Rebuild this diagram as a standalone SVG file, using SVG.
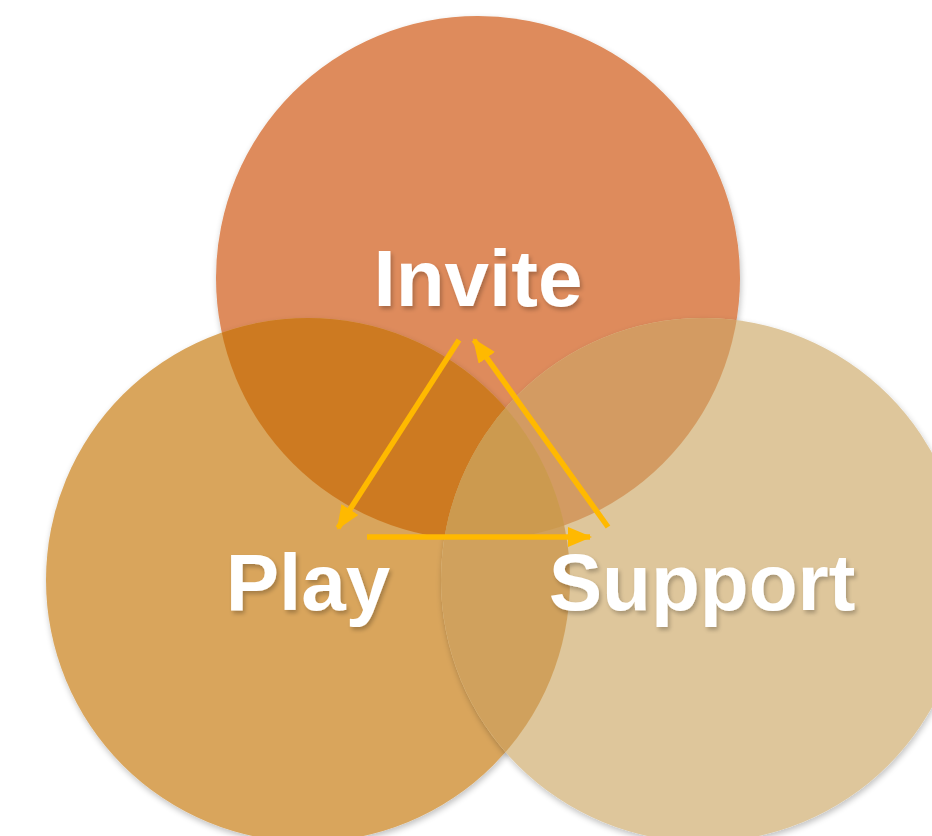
<svg xmlns="http://www.w3.org/2000/svg" width="932" height="836" viewBox="0 0 932 836">
  <style>
    .label { font-family: "Liberation Sans", Arial, Helvetica, sans-serif; font-weight: bold; font-size: 80px; fill: #FFFFFF; text-anchor: middle; }
    .arrow { stroke: #FFB900; stroke-width: 5.5; fill: none; marker-end: url(#head); }
  </style>
  <defs>
    <marker id="head" viewBox="0 0 24 20" markerWidth="24" markerHeight="20" refX="22" refY="10" orient="auto" markerUnits="userSpaceOnUse">
      <path d="M0,0 L24,10 L0,20 Z" fill="#FFB900"/>
    </marker>
    <filter id="soft" x="-10%" y="-10%" width="120%" height="120%">
      <feGaussianBlur in="SourceAlpha" stdDeviation="3"/>
      <feOffset dx="1" dy="3" result="b"/>
      <feComponentTransfer><feFuncA type="linear" slope="0.25"/></feComponentTransfer>
      <feMerge><feMergeNode/><feMergeNode in="SourceGraphic"/></feMerge>
    </filter>
    <filter id="textShadow" x="-10%" y="-20%" width="120%" height="150%">
      <feGaussianBlur in="SourceAlpha" stdDeviation="2"/>
      <feOffset dx="2" dy="3"/>
      <feComponentTransfer><feFuncA type="linear" slope="0.25"/></feComponentTransfer>
      <feMerge><feMergeNode/><feMergeNode in="SourceGraphic"/></feMerge>
    </filter>
    <clipPath id="clipTop"><circle cx="478" cy="278" r="262"/></clipPath>
    <clipPath id="clipLeft"><circle cx="308" cy="580" r="262"/></clipPath>
    <clipPath id="clipRight"><circle cx="703" cy="580" r="262"/></clipPath>
  </defs>

  <rect width="932" height="836" fill="#FFFFFF"/>

  <!-- circles -->
  <g id="invite" filter="url(#soft)">
    <circle cx="478" cy="278" r="262" fill="#DE8B5B"/>
  </g>
  <g id="play" filter="url(#soft)">
    <circle cx="308" cy="580" r="262" fill="#D9A55C"/>
  </g>
  <g id="support" filter="url(#soft)">
    <circle cx="703" cy="580" r="262" fill="#DEC69B"/>
  </g>

  <!-- overlap tints -->
  <g id="overlaps">
    <g clip-path="url(#clipLeft)">
      <circle cx="478" cy="278" r="262" fill="#CD7A21"/>
    </g>
    <g clip-path="url(#clipRight)">
      <circle cx="478" cy="278" r="262" fill="#D39B62"/>
      <circle cx="308" cy="580" r="262" fill="#D0A15D"/>
      <g clip-path="url(#clipLeft)">
        <circle cx="478" cy="278" r="262" fill="#CC9A4F"/>
      </g>
    </g>
  </g>

  <!-- labels -->
  <g id="labels" filter="url(#textShadow)">
    <text class="label" x="478" y="306" font-size="79">Invite</text>
    <text class="label" x="308" y="610">Play</text>
    <text class="label" x="702" y="610">Support</text>
  </g>

  <!-- cycle arrows -->
  <g id="connectors">
    <line class="arrow" x1="459" y1="340" x2="338" y2="528"/>
    <line class="arrow" x1="608" y1="527" x2="474" y2="340"/>
    <line class="arrow" x1="367" y1="537" x2="590" y2="537"/>
  </g>
</svg>
